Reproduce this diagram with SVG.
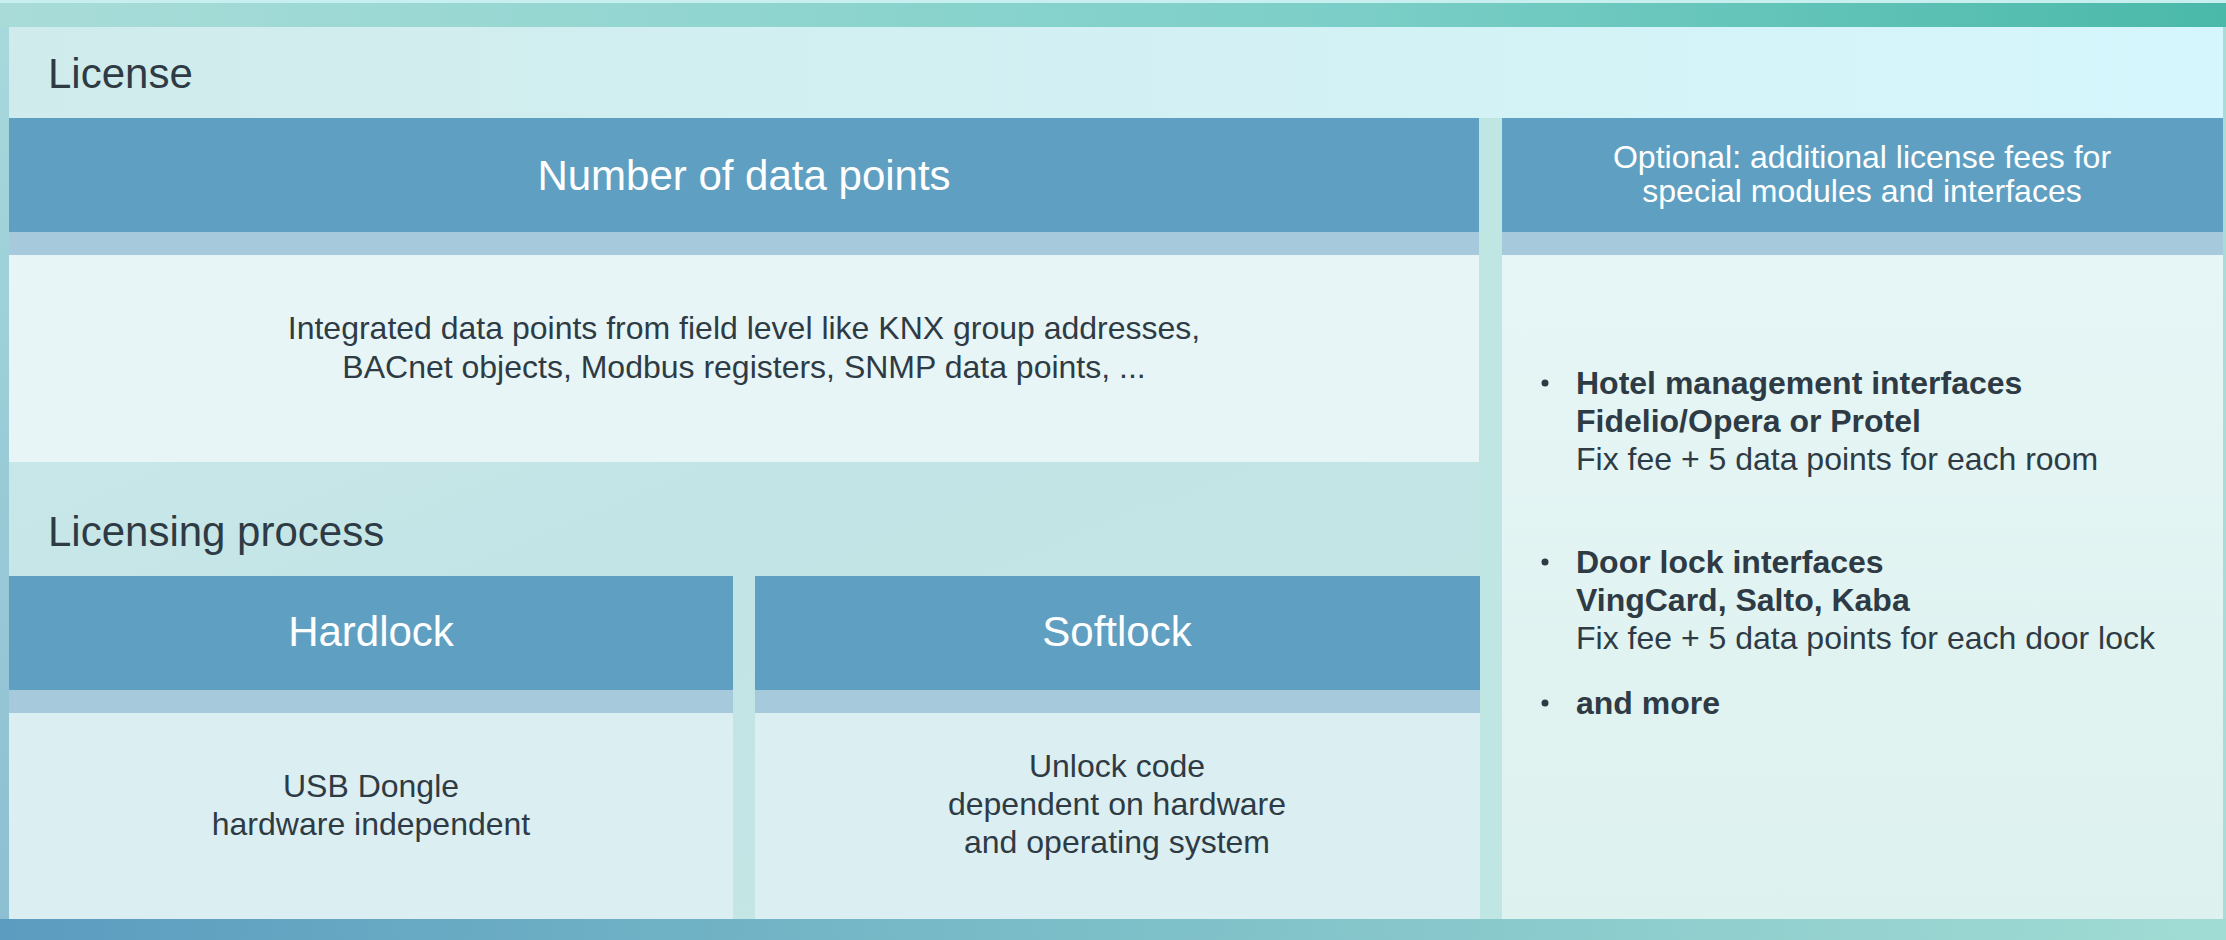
<svg xmlns="http://www.w3.org/2000/svg" width="2226" height="940" viewBox="0 0 2226 940">
  <defs>
    <linearGradient id="bg" x1="0" y1="0" x2="1" y2="1">
      <stop offset="0" stop-color="#cfeaea"/>
      <stop offset="0.45" stop-color="#c2e4e6"/>
      <stop offset="1" stop-color="#c6e8e2"/>
    </linearGradient>
    <linearGradient id="bgTop" x1="0" y1="0" x2="1" y2="0">
      <stop offset="0" stop-color="#d0ebeb"/>
      <stop offset="1" stop-color="#d5f6fc"/>
    </linearGradient>
    <linearGradient id="topBand" x1="0" y1="0" x2="1" y2="0">
      <stop offset="0" stop-color="#a9dcd9"/>
      <stop offset="0.6" stop-color="#7ccfc8"/>
      <stop offset="1" stop-color="#4ab9a9"/>
    </linearGradient>
    <linearGradient id="bottomBand" x1="0" y1="0" x2="1" y2="0">
      <stop offset="0" stop-color="#5b9cc0"/>
      <stop offset="0.5" stop-color="#7dbfc8"/>
      <stop offset="1" stop-color="#a1dcd4"/>
    </linearGradient>
    <linearGradient id="leftEdge" x1="0" y1="0" x2="0" y2="1">
      <stop offset="0" stop-color="#a6d8dc"/>
      <stop offset="1" stop-color="#8dbfd2"/>
    </linearGradient>
    <linearGradient id="rightContent" x1="0" y1="0" x2="0" y2="1">
      <stop offset="0" stop-color="#e6f6f6"/>
      <stop offset="1" stop-color="#ddf1ee"/>
    </linearGradient>
    <style>
      .head { fill: #5fa0c2; }
      .strip { fill: #a7c9dc; }
      .body1 { fill: #e7f5f6; }
      .body2 { fill: #dbeef1; }
      .title { font-family: "Liberation Sans", Arial, sans-serif; font-size: 42px; fill: #2e3b45; }
      .htext { font-family: "Liberation Sans", Arial, sans-serif; font-size: 42px; fill: #ffffff; text-anchor: middle; }
      .htext2 { font-family: "Liberation Sans", Arial, sans-serif; font-size: 32px; fill: #ffffff; text-anchor: middle; }
      .txt { font-family: "Liberation Sans", Arial, sans-serif; font-size: 32px; fill: #2e3b45; }
      .mid { text-anchor: middle; }
      .b { font-weight: bold; }
    </style>
  </defs>

  <!-- background -->
  <rect x="0" y="0" width="2226" height="940" fill="url(#bg)"/>
  <rect x="0" y="0" width="2226" height="118" fill="url(#bgTop)"/>
  <rect x="0" y="0" width="2226" height="3" fill="#c8eff0"/>
  <rect x="0" y="3" width="2226" height="24" fill="url(#topBand)"/>
  <rect x="0" y="27" width="9" height="892" fill="url(#leftEdge)"/>
  <rect x="2223" y="27" width="3" height="892" fill="#a8dcd8"/>
  <rect x="1479" y="118" width="23" height="801" fill="#c0e6e4"/>
  <rect x="0" y="919" width="2226" height="21" fill="url(#bottomBand)"/>

  <g id="license-title">
    <text class="title" x="48" y="88">License</text>
  </g>

  <g id="data-points">
    <rect class="head" x="9" y="118" width="1470" height="114"/>
    <rect class="strip" x="9" y="232" width="1470" height="23"/>
    <rect class="body1" x="9" y="255" width="1470" height="207"/>
    <text class="htext" x="744" y="190">Number of data points</text>
    <text class="txt mid" x="744" y="339">Integrated data points from field level like KNX group addresses,</text>
    <text class="txt mid" x="744" y="378">BACnet objects, Modbus registers, SNMP data points, ...</text>
  </g>

  <g id="optional">
    <rect class="head" x="1502" y="118" width="721" height="114"/>
    <rect class="strip" x="1502" y="232" width="721" height="23"/>
    <rect x="1502" y="255" width="721" height="664" fill="url(#rightContent)"/>
    <text class="htext2" x="1862" y="168">Optional: additional license fees for</text>
    <text class="htext2" x="1862" y="202">special modules and interfaces</text>
    <circle cx="1545" cy="383" r="3.5" fill="#2e3b45"/>
    <text class="txt b" x="1576" y="394">Hotel management interfaces</text>
    <text class="txt b" x="1576" y="432">Fidelio/Opera or Protel</text>
    <text class="txt" x="1576" y="470">Fix fee + 5 data points for each room</text>
    <circle cx="1545" cy="562" r="3.5" fill="#2e3b45"/>
    <text class="txt b" x="1576" y="573">Door lock interfaces</text>
    <text class="txt b" x="1576" y="611">VingCard, Salto, Kaba</text>
    <text class="txt" x="1576" y="649">Fix fee + 5 data points for each door lock</text>
    <circle cx="1545" cy="703" r="3.5" fill="#2e3b45"/>
    <text class="txt b" x="1576" y="714">and more</text>
  </g>

  <g id="licensing-title">
    <text class="title" x="48" y="546">Licensing process</text>
  </g>

  <g id="hardlock">
    <rect class="head" x="9" y="576" width="724" height="114"/>
    <rect class="strip" x="9" y="690" width="724" height="23"/>
    <rect class="body2" x="9" y="713" width="724" height="206"/>
    <text class="htext" x="371" y="646">Hardlock</text>
    <text class="txt mid" x="371" y="797">USB Dongle</text>
    <text class="txt mid" x="371" y="835">hardware independent</text>
  </g>

  <g id="softlock">
    <rect class="head" x="755" y="576" width="725" height="114"/>
    <rect class="strip" x="755" y="690" width="725" height="23"/>
    <rect class="body2" x="755" y="713" width="725" height="206"/>
    <text class="htext" x="1117" y="646">Softlock</text>
    <text class="txt mid" x="1117" y="777">Unlock code</text>
    <text class="txt mid" x="1117" y="815">dependent on hardware</text>
    <text class="txt mid" x="1117" y="853">and operating system</text>
  </g>

  <g id="connectors"/>
</svg>
